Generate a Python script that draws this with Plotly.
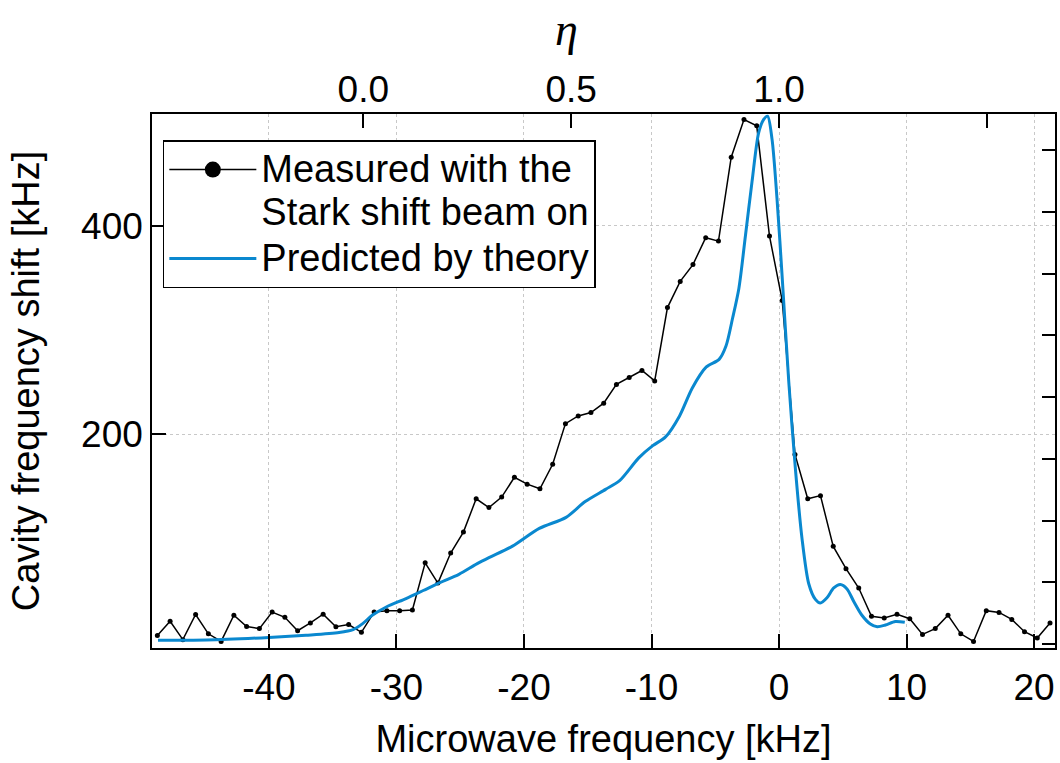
import plotly.graph_objects as go

# ---------------- data ----------------
freq_measured = [-48.75, -47.75, -46.75, -45.75, -44.75, -43.75, -42.75, -41.75, -40.75, -39.75,
                 -38.75, -37.75, -36.75, -35.75, -34.75, -33.75, -32.75, -31.75, -30.75, -29.75,
                 -28.75, -27.75, -26.75, -25.75, -24.75, -23.75, -22.75, -21.75, -20.75, -19.75,
                 -18.75, -17.75, -16.75, -15.75, -14.75, -13.75, -12.75, -11.75, -10.75, -9.75,
                 -8.75, -7.75, -6.75, -5.75, -4.75, -3.75, -2.75, -1.75, -0.75, 0.25,
                 1.25, 2.25, 3.25, 4.25, 5.25, 6.25, 7.25, 8.25, 9.25, 10.25,
                 11.25, 12.25, 13.25, 14.25, 15.25, 16.25, 17.25, 18.25, 19.25, 20.25, 21.25]
shift_measured = [7.4, 21, 3.4, 27.5, 9, 1.7, 26.8, 16, 14, 29.8,
                  24.8, 12, 19.4, 27.8, 15.7, 17.8, 10.4, 29.8, 31, 31,
                  31.8, 77, 57.6, 86.4, 106.5, 138.4, 130, 140, 159, 152.4,
                  148, 171.5, 210.4, 217.8, 221, 230, 248, 254.6, 261.3, 251.3,
                  321.6, 346.7, 362.8, 388.6, 385.3, 465.7, 501.8, 495.8, 390.3, 328.3,
                  180.9, 138.4, 141.4, 92.8, 71.4, 52.9, 25.8, 24.1, 27.8, 23.5,
                  8.4, 14, 26.8, 9, 1.7, 31.2, 29.5, 22.8, 11, 5, 19.4]

freq_theory = [-48.7, -44.9, -40.0, -37.1, -34.5, -33.4, -32.65, -31.9, -30.8, -29.25,
               -27.9, -26.6, -25.1, -23.7, -22.75, -20.9, -18.8, -16.7, -15.2, -13.6,
               -12.5, -11.0, -9.9, -8.9, -7.8, -6.8, -5.7, -4.7, -4.16, -3.64,
               -3.15, -2.64, -2.12, -1.6, -1.2, -0.9, -0.55, -0.16, 0.24, 0.76,
               1.28, 1.8, 2.33, 2.85, 3.24, 3.76, 4.29, 4.81, 5.33, 5.86,
               6.5, 7.16, 7.7, 8.34, 9.12, 9.86]
shift_theory = [2.8, 3.0, 5.5, 7.6, 10.2, 13, 18.8, 26.7, 34.7, 42.8,
                50.5, 58, 66, 76, 82, 93, 110, 120.6, 135.7, 147.4,
                155.8, 177.6, 189.3, 197.7, 217.8, 244.6, 264.7, 272, 284.8, 311.6,
                340, 390, 442, 489, 502, 505, 483, 426, 352, 251,
                167.5, 100.5, 57, 42, 38.5, 43.5, 53, 56.3, 52, 40,
                26.8, 18.4, 15.7, 17.4, 20.8, 20]

x_ticks = [-40, -30, -20, -10, 0, 10, 20]
x_ticklabels = ["-40", "-30", "-20", "-10", "0", "10", "20"]
y_ticks = [200, 400]
y_ticklabels = ["200", "400"]
eta_ticks = [0.0, 0.5, 1.0, 1.5]
eta_ticklabels = ["0.0", "0.5", "1.0", ""]
right_ticks = [0, 1, 2, 3, 4, 5, 6, 7, 8]

X_RANGE = [-49.17, 21.64]
Y_RANGE = [-4.6, 507.1]
ETA_SCALE = 32.6  # kHz per unit of eta, eta = 1 + f / ETA_SCALE
ETA_RANGE = [1 + X_RANGE[0] / ETA_SCALE, 1 + X_RANGE[1] / ETA_SCALE]
RIGHT_RANGE = [-0.065, 8.585]

BLUE = "#0A88CF"
FONT = "Liberation Sans, Arial, sans-serif"
FS_TICK = 37
FS_TITLE = 38
FS_LEG = 38


def big(text):
    return "<span style='font-size:%dpx'>%s</span>" % (FS_LEG, text)


fig = go.Figure()

fig.add_trace(go.Scatter(
    x=freq_measured, y=shift_measured, mode="lines+markers",
    line=dict(color="black", width=1.5), marker=dict(color="black", size=5),
    showlegend=False))
fig.add_trace(go.Scatter(
    x=freq_theory, y=shift_theory, mode="lines",
    line=dict(color=BLUE, width=3, shape="spline", smoothing=0.8),
    showlegend=False))
# legend-only entries
fig.add_trace(go.Scatter(
    x=[None], y=[None], mode="lines+markers",
    name=big("Measured with the") + "<br>" + big("Stark shift beam on"),
    line=dict(color="black", width=1.5), marker=dict(color="black", size=16)))
fig.add_trace(go.Scatter(
    x=[None], y=[None], mode="lines", name=big("Predicted by theory"),
    line=dict(color=BLUE, width=3)))
# top and right axes carriers
fig.add_trace(go.Scatter(x=[None], y=[None], xaxis="x2", yaxis="y", showlegend=False))
fig.add_trace(go.Scatter(x=[None], y=[None], xaxis="x", yaxis="y2", showlegend=False))

grid = dict(showgrid=True, gridcolor="#c8c8c8", gridwidth=1, griddash="dot")

fig.update_layout(
    width=1060, height=763,
    margin=dict(l=152, r=3, t=114, b=115, pad=0),
    paper_bgcolor="white", plot_bgcolor="white",
    font=dict(family=FONT, size=FS_TICK, color="black"),
    xaxis=dict(range=X_RANGE, tickvals=x_ticks, ticktext=x_ticklabels, ticks="inside",
               ticklen=14, tickwidth=1.5, tickcolor="black", showline=True, linecolor="black",
               linewidth=1.5, mirror=True, zeroline=False, tickfont=dict(size=FS_TICK),
               ticklabelstandoff=6,
               title=dict(text="Microwave frequency [kHz]", font=dict(size=FS_TITLE), standoff=18),
               **grid),
    xaxis2=dict(range=ETA_RANGE, overlaying="x", side="top", tickvals=eta_ticks,
                ticktext=eta_ticklabels, ticks="inside", ticklen=14, tickwidth=1.5,
                tickcolor="black", showgrid=False, zeroline=False, showline=False,
                tickfont=dict(size=FS_TICK), ticklabelstandoff=4),
    yaxis=dict(range=Y_RANGE, tickvals=y_ticks, ticktext=y_ticklabels, ticks="inside",
               ticklen=14, tickwidth=1.5, tickcolor="black", showline=True, linecolor="black",
               linewidth=1.5, mirror=True, zeroline=False, tickfont=dict(size=FS_TICK),
               title=dict(text="Cavity frequency shift [kHz]", font=dict(size=FS_TITLE),
                          standoff=30),
               **grid),
    yaxis2=dict(range=RIGHT_RANGE, overlaying="y", side="right", tickvals=right_ticks,
                showticklabels=False, ticks="inside", ticklen=13, tickwidth=1.5,
                tickcolor="black", showgrid=False, zeroline=False, showline=False),
    legend=dict(x=0.012, y=0.951, xanchor="left", yanchor="top", bgcolor="white",
                bordercolor="black", borderwidth=1.5, font=dict(size=33),
                itemwidth=87, valign="top", tracegroupgap=0),
    showlegend=True,
    annotations=[dict(text="<i>η</i>", xref="paper", yref="paper", x=0.4585, y=1.21,
                      xanchor="center", yanchor="top", showarrow=False,
                      font=dict(family="Liberation Serif, serif", size=46, color="black"))],
)

fig.write_html("out.html")
